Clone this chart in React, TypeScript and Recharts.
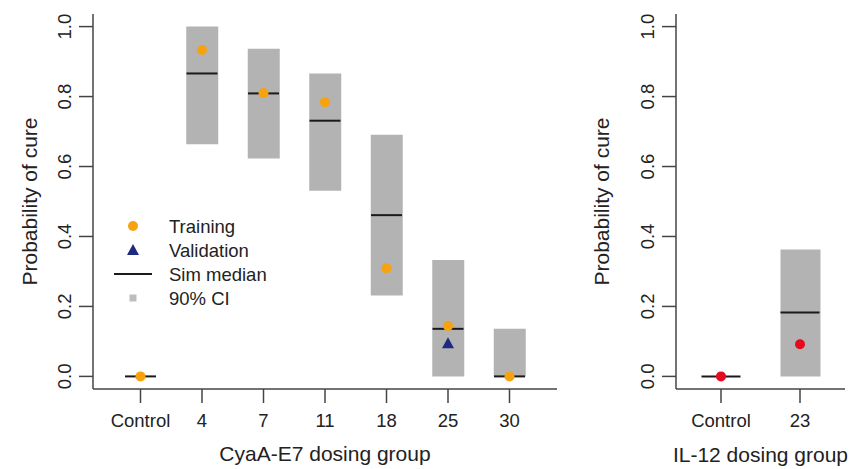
// probability of cure by dosing group, two panels

import React from 'react';
import { ComposedChart, Bar, Scatter, XAxis, YAxis, Legend } from 'recharts';

const cyaGroups = ['Control', '4', '7', '11', '18', '25', '30'];
const cyaCiLow = [0, 0.664, 0.623, 0.531, 0.231, 0.0, 0.0];
const cyaCiHigh = [0, 1.0, 0.937, 0.866, 0.691, 0.333, 0.136];
const cyaMedian = [0, 0.866, 0.809, 0.731, 0.461, 0.136, 0.0];
const cyaTraining = [0, 0.933, 0.81, 0.784, 0.309, 0.144, 0.0];
const cyaValidation = [null, null, null, null, null, 0.095, null];

const il12Groups = ['Control', '23'];
const il12CiLow = [0, 0];
const il12CiHigh = [0, 0.363];
const il12Median = [0, 0.183];
const il12Observed = [0, 0.092];

const yTicks = [0, 0.2, 0.4, 0.6, 0.8, 1.0];
const legendLabels = ['Training', 'Validation', 'Sim median', '90% CI'];

const cyaData = cyaGroups.map((g, i) => ({
  group: g,
  ci: [cyaCiLow[i], cyaCiHigh[i]],
  median: cyaMedian[i],
  training: cyaTraining[i],
  validation: cyaValidation[i],
}));

const il12Data = il12Groups.map((g, i) => ({
  group: g,
  ci: [il12CiLow[i], il12CiHigh[i]],
  median: il12Median[i],
  observed: il12Observed[i],
}));

const FONT = '"Liberation Sans", Arial, sans-serif';
const TEXT = '#222';
const FRAME = { stroke: '#444', strokeWidth: 1.5 };
const ORANGE = '#F7A20F';
const NAVY = '#1E2A80';
const RED = '#E50A1E';
const GREY = '#B3B3B3';
const Y_DOMAIN = [-0.036, 1.036];

const ok = (v: any) => typeof v === 'number' && isFinite(v);

const YTick = (props: any) => {
  const { x, y, payload } = props;
  return (
    <text transform={`translate(${x - 8},${y}) rotate(-90)`} textAnchor="middle"
      fontSize={18.5} fontFamily={FONT} fill={TEXT}>
      {Number(payload.value).toFixed(1)}
    </text>
  );
};

const XTick = (props: any) => {
  const { x, y, payload } = props;
  return (
    <text x={x} y={y + 24} textAnchor="middle" fontSize={18.5} fontFamily={FONT} fill={TEXT}>
      {payload.value}
    </text>
  );
};

const xTitle = (text: string, dy: number) => (props: any) => {
  const { x, y, width } = props.viewBox;
  return (
    <text x={x + width / 2} y={y + dy} textAnchor="middle" fontSize={21} fontFamily={FONT} fill={TEXT}>
      {text}
    </text>
  );
};

const yTitle = (bx: number) => (props: any) => {
  const { y, height } = props.viewBox;
  return (
    <text transform={`translate(${bx},${y + height / 2}) rotate(-90)`} textAnchor="middle"
      fontSize={21} fontFamily={FONT} fill={TEXT}>
      Probability of cure
    </text>
  );
};

const medianShape = (half: number) => (props: any) => {
  const { cx, cy } = props;
  if (!ok(cx) || !ok(cy)) return <g />;
  return <line x1={cx - half} x2={cx + half} y1={cy} y2={cy} stroke="#1a1a1a" strokeWidth={2} />;
};

const dotShape = (color: string, key: string) => (props: any) => {
  const { cx, cy, payload } = props;
  if (!ok(cx) || !ok(cy) || payload?.[key] == null) return <g />;
  return <circle cx={cx} cy={cy} r={5} fill={color} />;
};

const triShape = (props: any) => {
  const { cx, cy, payload } = props;
  if (!ok(cx) || !ok(cy) || payload?.validation == null) return <g />;
  return <polygon points={`${cx},${cy - 6} ${cx - 6},${cy + 5} ${cx + 6},${cy + 5}`} fill={NAVY} />;
};

const LegendBox = () => (
  <svg width={200} height={100}>
    {legendLabels.map((label, i) => {
      const cy = 14 + i * 24;
      let icon: any = null;
      if (i === 0) icon = <circle cx={28} cy={cy} r={5} fill={ORANGE} />;
      if (i === 1) icon = <polygon points={`28,${cy - 6} 22,${cy + 5} 34,${cy + 5}`} fill={NAVY} />;
      if (i === 2) icon = <line x1={9} x2={47} y1={cy} y2={cy} stroke="#1a1a1a" strokeWidth={2} />;
      if (i === 3) icon = <rect x={24.5} y={cy - 3.5} width={7} height={7} fill="#BDBDBD" />;
      return (
        <g key={label}>
          {icon}
          <text x={64} y={cy + 7} fontSize={18.5} fontFamily={FONT} fill={TEXT}>{label}</text>
        </g>
      );
    })}
  </svg>
);

const Frame = ({ id }: { id: string }) => null;

const App = () => {
  return (
    <div style={{ position: 'absolute', left: 0, top: 0, width: 852, height: 469, background: '#fff' }}>
      <div style={{ position: 'absolute', left: 0, top: 0 }}>
        <ComposedChart width={560} height={469} data={cyaData}
          margin={{ top: 14, right: 3, bottom: 15, left: 0 }}>
          <XAxis dataKey="group" type="category" interval={0} padding={{ left: 16.75, right: 16.75 }}
            height={65} tickSize={14} tickMargin={0} tick={<XTick />}
            axisLine={FRAME} tickLine={FRAME} label={{ content: xTitle('CyaA-E7 dosing group', 72) }} />
          <XAxis xAxisId="top" orientation="top" dataKey="group" type="category" height={0}
            tick={false} tickLine={false} axisLine={FRAME} />
          <YAxis type="number" domain={Y_DOMAIN} ticks={yTicks} allowDataOverflow width={93}
            tickSize={14} tickMargin={0} tick={<YTick />} axisLine={FRAME} tickLine={FRAME}
            label={{ content: yTitle(37) }} />
          <YAxis yAxisId="right" orientation="right" type="number" domain={Y_DOMAIN} width={0}
            tick={false} tickLine={false} axisLine={FRAME} />
          <Bar dataKey="ci" barSize={32} fill={GREY} isAnimationActive={false} />
          <Scatter dataKey="median" shape={medianShape(15.5)} isAnimationActive={false} />
          <Scatter dataKey="training" shape={dotShape(ORANGE, 'training')} isAnimationActive={false} />
          <Scatter dataKey="validation" shape={triShape} isAnimationActive={false} />
          <Legend layout="vertical" align="center" verticalAlign="middle" content={() => <LegendBox />}
            wrapperStyle={{ position: 'absolute', left: 105, top: 212, width: 200, height: 100 }} />
        </ComposedChart>
      </div>
      <div style={{ position: 'absolute', left: 560, top: 0 }}>
        <ComposedChart width={292} height={469} data={il12Data}
          margin={{ top: 14, right: 7, bottom: 15, left: 0 }} style={{ overflow: 'visible' }}>
          <XAxis dataKey="group" type="category" interval={0} padding={{ left: 5.5, right: 5.5 }}
            height={65} tickSize={14} tickMargin={0} tick={<XTick />}
            axisLine={FRAME} tickLine={FRAME} label={{ content: xTitle('IL-12 dosing group', 73) }} />
          <XAxis xAxisId="top" orientation="top" dataKey="group" type="category" height={0}
            tick={false} tickLine={false} axisLine={FRAME} />
          <YAxis type="number" domain={Y_DOMAIN} ticks={yTicks} allowDataOverflow width={116}
            tickSize={14} tickMargin={0} tick={<YTick />} axisLine={FRAME} tickLine={FRAME}
            label={{ content: yTitle(49) }} />
          <YAxis yAxisId="right" orientation="right" type="number" domain={Y_DOMAIN} width={0}
            tick={false} tickLine={false} axisLine={FRAME} />
          <Bar dataKey="ci" barSize={40} fill={GREY} isAnimationActive={false} />
          <Scatter dataKey="median" shape={medianShape(19.5)} isAnimationActive={false} />
          <Scatter dataKey="observed" shape={dotShape(RED, 'observed')} isAnimationActive={false} />
        </ComposedChart>
      </div>
    </div>
  );
};

export default App;
